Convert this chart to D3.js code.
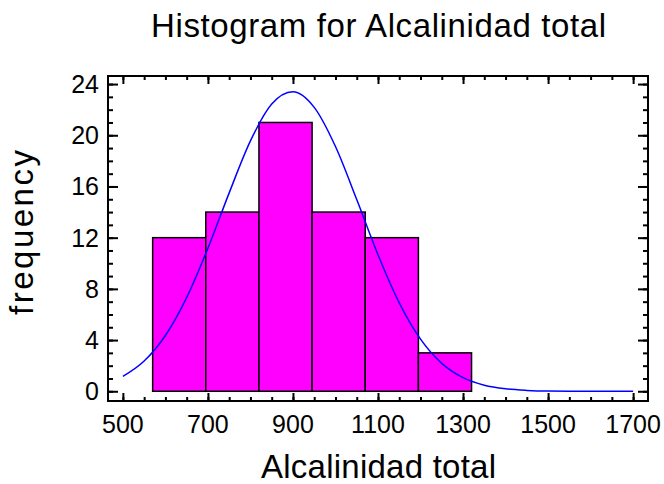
<html>
<head>
<script src="https://d3js.org/d3.v7.min.js"></script>
<style>
  body { margin: 0; background: white; }
  text { font-family: "Liberation Sans", Arial, sans-serif; fill: black; }
</style>
</head>
<body>
<svg width="664" height="484"></svg>
<script>
// histogram bins (lower edge, upper edge) and counts
var binStart = [570, 695, 820, 945, 1070, 1195, 1320];
var binEnd   = [695, 820, 945, 1070, 1195, 1320, 1445];
var counts   = [12, 14, 21, 14, 12, 3, 0];

// fitted normal curve
var curveX = [500, 550, 600, 650, 700, 750, 800, 850, 900, 950, 1000, 1050, 1100, 1150,
              1200, 1250, 1300, 1350, 1400, 1450, 1500, 1550, 1600, 1650, 1700];
var curveY = [1.16, 2.36, 4.36, 7.32, 11.17, 15.5, 19.56, 22.44, 23.4, 22.18, 19.12, 14.98, 10.67, 6.91,
              4.07, 2.18, 1.06, 0.47, 0.19, 0.07, 0.02, 0.01, 0, 0, 0];

var xTicks = [500, 700, 900, 1100, 1300, 1500, 1700];
var yTicks = [0, 4, 8, 12, 16, 20, 24];

var svg = d3.select("svg");
var pLeft = 108, pRight = 648, pTop = 76, pBottom = 401;

var x = d3.scaleLinear().domain([465, 1735]).range([pLeft, pRight]);
var y = d3.scaleLinear().domain([-0.76, 24.63]).range([pBottom, pTop]);

// bars
svg.append("g").selectAll("rect").data(counts).enter().append("rect")
  .attr("x", function(d, i) { return x(binStart[i]); })
  .attr("width", function(d, i) { return x(binEnd[i]) - x(binStart[i]); })
  .attr("y", function(d) { return y(d); })
  .attr("height", function(d) { return y(0) - y(d); })
  .attr("fill", "#ff00ff")
  .attr("stroke", "black")
  .attr("stroke-width", 1.5);

// normal curve
var line = d3.line()
  .x(function(d, i) { return x(curveX[i]); })
  .y(function(d) { return y(d); })
  .curve(d3.curveMonotoneX);
svg.append("path").datum(curveY)
  .attr("d", line)
  .attr("fill", "none")
  .attr("stroke", "#0000ff")
  .attr("stroke-width", 1.5);

// axes with minor ticks, mirrored on top/right
var xMinor = d3.range(500, 1701, 50);
var yMinor = d3.range(0, 25, 1);
function ticks(g, axis, vals, len) {
  g.call(axis.tickValues(vals).tickSize(len).tickFormat(""));
  g.select(".domain").remove();
  g.selectAll("line").attr("stroke", "black").attr("stroke-width", 2);
}
svg.append("g").attr("transform", "translate(0," + pBottom + ")").call(ticks, d3.axisTop(x), xMinor, 4);
svg.append("g").attr("transform", "translate(0," + pBottom + ")").call(ticks, d3.axisTop(x), xTicks, 8);
svg.append("g").attr("transform", "translate(0," + pTop + ")").call(ticks, d3.axisBottom(x), xMinor, 4);
svg.append("g").attr("transform", "translate(0," + pTop + ")").call(ticks, d3.axisBottom(x), xTicks, 8);
svg.append("g").attr("transform", "translate(" + pLeft + ",0)").call(ticks, d3.axisRight(y), yMinor, 5);
svg.append("g").attr("transform", "translate(" + pLeft + ",0)").call(ticks, d3.axisRight(y), yTicks, 10);
svg.append("g").attr("transform", "translate(" + pRight + ",0)").call(ticks, d3.axisLeft(y), yMinor, 5);
svg.append("g").attr("transform", "translate(" + pRight + ",0)").call(ticks, d3.axisLeft(y), yTicks, 10);

// frame
svg.append("rect")
  .attr("x", pLeft).attr("y", pTop)
  .attr("width", pRight - pLeft).attr("height", pBottom - pTop)
  .attr("fill", "none").attr("stroke", "black").attr("stroke-width", 2);

// tick labels
svg.append("g").selectAll("text").data(xTicks).enter().append("text")
  .attr("x", function(d) { return x(d); })
  .attr("y", 433)
  .attr("text-anchor", "middle")
  .attr("font-size", "25px")
  .text(function(d) { return d; });
svg.append("g").selectAll("text").data(yTicks).enter().append("text")
  .attr("x", 99)
  .attr("y", function(d) { return y(d) + 9; })
  .attr("text-anchor", "end")
  .attr("font-size", "25px")
  .text(function(d) { return d; });

// titles
svg.append("text")
  .attr("x", 151).attr("y", 37)
  .attr("font-size", "33px")
  .attr("textLength", 455)
  .text("Histogram for Alcalinidad total");
svg.append("text")
  .attr("x", 261).attr("y", 478)
  .attr("font-size", "33px")
  .attr("textLength", 235)
  .text("Alcalinidad total");
svg.append("text")
  .attr("transform", "translate(33,315) rotate(-90)")
  .attr("font-size", "33px")
  .attr("textLength", 165)
  .text("frequency");
</script>
</body>
</html>
